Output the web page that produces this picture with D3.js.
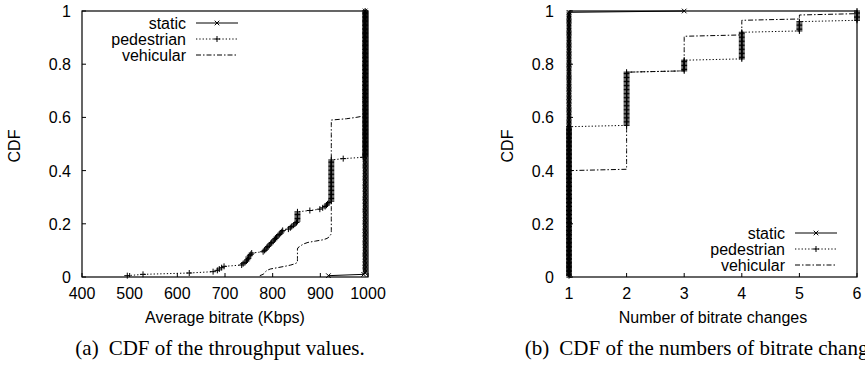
<!DOCTYPE html>
<html>
<head>
<meta charset="utf-8">
<script src="https://cdn.jsdelivr.net/npm/d3@7"></script>
<style>
  html, body { margin: 0; padding: 0; background: #fff; }
  svg { display: block; overflow: hidden; }
  text { font-family: "Liberation Sans", Arial, Helvetica, sans-serif; fill: #000; }
  .cap { font-family: "Liberation Serif", "Times New Roman", serif; }
</style>
</head>
<body>
<svg id="chart" width="865" height="371"></svg>
<script>
// ---------------- data ----------------
const seriesNames = ["static", "pedestrian", "vehicular"];
const sessionCount = 200;

// panel (a): average bitrate per session, as [value Kbps, number of sessions]
const thrTicks = [400, 500, 600, 700, 800, 900, 1000];
const thrStatic = [[917, 1], [991, 1], [994, 198]];
const thrPedestrian = [
  [495, 1], [528, 1], [625, 1], [675, 1], [684, 1], [688, 1], [693, 1], [698, 1],
  [735, 1], [738, 1], [742, 1], [745, 1], [747, 1], [749, 2], [752, 1], [754, 1], [756, 1],
  [780, 1], [783, 1], [786, 1], [788, 1], [790, 1], [793, 1], [796, 1], [798, 1], [801, 1],
  [804, 1], [806, 1], [808, 1], [811, 1], [814, 1], [817, 1], [819, 1], [821, 1],
  [833, 1], [837, 1], [840, 1], [844, 1], [847, 1], [850, 1], [852, 8],
  [878, 1], [899, 1], [905, 1], [910, 1], [913, 1], [915, 1], [918, 1],
  [923, 32], [948, 1], [990, 1], [994, 110]
];
const thrVehicular = [
  [773, 1], [780, 1], [783, 1], [785, 1], [788, 1], [795, 1], [810, 1], [825, 1], [838, 1], [847, 1],
  [852, 11], [853, 1], [857, 1], [861, 1], [866, 1], [874, 1], [890, 1], [906, 1], [914, 1],
  [918, 1], [920, 1], [922, 1], [923, 86], [955, 1], [975, 1], [990, 1], [994, 79]
];

// panel (b): number of bitrate changes per session, as [changes, number of sessions]
const chgTicks = [1, 2, 3, 4, 5, 6];
const chgStatic = [[1, 199], [3, 1]];
const chgPedestrian = [[1, 113], [2, 41], [3, 9], [4, 21], [5, 8], [6, 8]];
const chgVehicular = [[1, 80], [2, 74], [3, 27], [4, 12], [5, 4], [6, 3]];

const cdfTicks = [0, 0.2, 0.4, 0.6, 0.8, 1];

const xTitles = ["Average bitrate (Kbps)", "Number of bitrate changes"];
const yTitle = "CDF";
const captions = [["(a)", "CDF of the throughput values."], ["(b)", "CDF of the numbers of bitrate changes."]];

// ---------------- drawing ----------------
const svg = d3.select("#chart");

const styles = {
  static:     { dash: null,        marker: "x" },
  pedestrian: { dash: "1.3,2",     marker: "+" },
  vehicular:  { dash: "5,2,1.5,2", marker: null }
};

function cdfPoints(hist) {
  const pts = [];
  let cum = 0;
  hist.forEach(([v, c]) => {
    for (let k = 0; k < c; k++) { cum += 1; pts.push([v, cum / sessionCount]); }
  });
  return pts;
}

function markerPath(type, s) {
  if (type === "x") return `M${-s},${-s}L${s},${s}M${-s},${s}L${s},${-s}`;
  if (type === "+") return `M${-s},0L${s},0M0,${-s}L0,${s}`;
  return "";
}

function panel(cfg) {
  const x = d3.scaleLinear().domain(cfg.xDomain).range(cfg.xRange);
  const y = d3.scaleLinear().domain([0, 1]).range([277, 11]);
  const g = svg.append("g");

  g.selectAll(".xt").data(cfg.xTicks).join("line")
    .attr("x1", d => x(d)).attr("x2", d => x(d))
    .attr("y1", y(0)).attr("y2", y(0) - 4)
    .attr("stroke", "#000").attr("stroke-width", 1);
  g.selectAll(".yt").data(cdfTicks).join("line")
    .attr("x1", x.range()[0]).attr("x2", x.range()[0] + 4)
    .attr("y1", d => y(d)).attr("y2", d => y(d))
    .attr("stroke", "#000").attr("stroke-width", 1);

  g.selectAll(".xl").data(cfg.xTicks).join("text")
    .attr("x", d => x(d)).attr("y", y(0) + 22)
    .attr("text-anchor", "middle").attr("font-size", 16)
    .text(d => d);
  g.selectAll(".yl").data(cdfTicks).join("text")
    .attr("x", cfg.yLabelX).attr("y", d => y(d) + 6)
    .attr("text-anchor", "end").attr("font-size", 16)
    .text(d => d3.format("~g")(d));

  g.append("text").attr("x", (x.range()[0] + x.range()[1]) / 2).attr("y", 323)
    .attr("text-anchor", "middle").attr("font-size", 16).text(cfg.xTitle);
  g.append("text").attr("transform", `translate(${cfg.yTitleX},146) rotate(-90)`)
    .attr("text-anchor", "middle").attr("font-size", 16).text(yTitle);

  const line = d3.line().x(d => x(d[0])).y(d => y(d[1]));
  cfg.series.forEach((hist, i) => {
    const name = seriesNames[i];
    const st = styles[name];
    const pts = cdfPoints(hist);
    g.append("path").attr("d", line(pts)).attr("fill", "none")
      .attr("stroke", "#000").attr("stroke-width", 1)
      .attr("stroke-dasharray", st.dash);
    if (st.marker) {
      g.append("g").selectAll("path").data(pts).join("path")
        .attr("transform", d => `translate(${x(d[0])},${y(d[1])})`)
        .attr("d", markerPath(st.marker, st.marker === "x" ? 2.3 : 3))
        .attr("stroke", "#000").attr("stroke-width", 1).attr("fill", "none");
    }
  });

  g.append("rect").attr("x", x.range()[0]).attr("y", y(1))
    .attr("width", x.range()[1] - x.range()[0]).attr("height", y(0) - y(1))
    .attr("fill", "none").attr("stroke", "#000").attr("stroke-width", 1.2);

  seriesNames.forEach((name, i) => {
    const st = styles[name];
    const ly = cfg.legendY + i * 16;
    g.append("text").attr("x", cfg.legendX).attr("y", ly + 6)
      .attr("text-anchor", "end").attr("font-size", 16).text(name);
    g.append("line").attr("x1", cfg.legendX + 10).attr("x2", cfg.legendX + 52)
      .attr("y1", ly).attr("y2", ly).attr("stroke", "#000").attr("stroke-width", 1)
      .attr("stroke-dasharray", st.dash);
    if (st.marker) {
      g.append("path").attr("transform", `translate(${cfg.legendX + 31},${ly})`)
        .attr("d", markerPath(st.marker, st.marker === "x" ? 2.3 : 3))
        .attr("stroke", "#000").attr("stroke-width", 1).attr("fill", "none");
    }
  });

  const cap = g.append("text").attr("class", "cap").attr("x", cfg.capX).attr("y", 355)
    .attr("text-anchor", "middle").attr("font-size", 21);
  cap.append("tspan").text(cfg.caption[0]);
  cap.append("tspan").attr("dx", 10).text(cfg.caption[1]);
}

panel({
  xDomain: [400, 1000], xRange: [82, 368], xTicks: thrTicks,
  series: [thrStatic, thrPedestrian, thrVehicular],
  yLabelX: 71, yTitleX: 20, xTitle: xTitles[0],
  legendX: 186, legendY: 23, caption: captions[0], capX: 220
});
panel({
  xDomain: [1, 6], xRange: [569, 857], xTicks: chgTicks,
  series: [chgStatic, chgPedestrian, chgVehicular],
  yLabelX: 554, yTitleX: 513, xTitle: xTitles[1],
  legendX: 785, legendY: 233, caption: captions[1], capX: 708
});
</script>
</body>
</html>
